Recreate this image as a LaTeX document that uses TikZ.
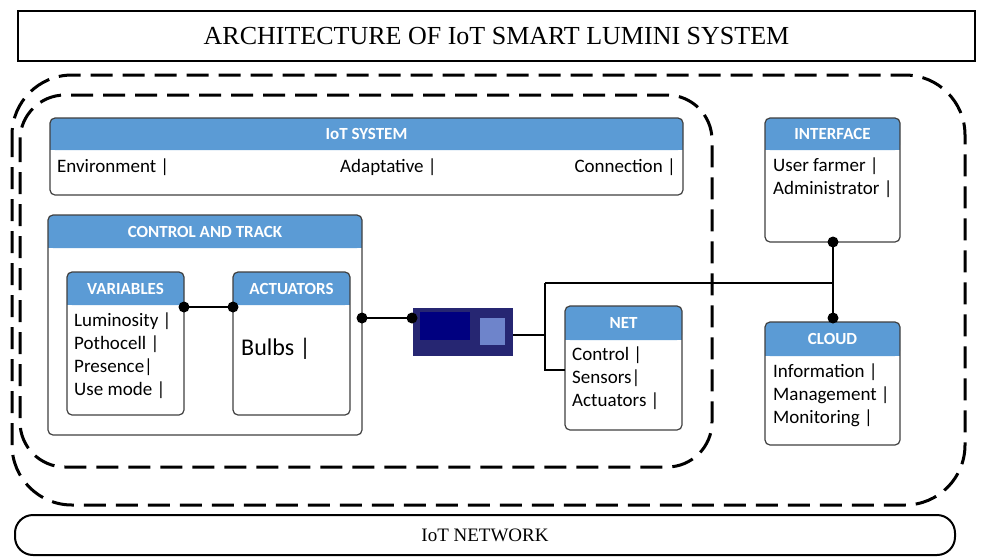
\documentclass[tikz,border=0pt]{standalone}
\usepackage{fontspec}
\setmainfont{Carlito}
\newfontfamily\serifx{Liberation Serif}
\begin{document}
\begin{tikzpicture}[x=1pt,y=-1pt,
  box/.style={draw=black!75,line width=1.2pt,rounded corners=5pt},
  head/.style={fill=hdr,rounded corners=5pt},
  htext/.style={text=white,font=\bfseries\fontsize{17}{19}\selectfont},
  btext/.style={font=\fontsize{19}{23}\selectfont,align=left,anchor=north west,inner sep=0pt},
  region/.style={line width=3pt,dash pattern=on 22pt off 10pt,rounded corners=60pt},
  dot/.style={circle,fill=black,inner sep=0pt,minimum size=11pt},
  wire/.style={line width=2.5pt}]
\definecolor{hdr}{HTML}{5B9BD5}
\useasboundingbox (0,0) rectangle (993,558);
\fill[white] (0,0) rectangle (993,558);
% title
\node[draw,line width=2pt,minimum width=957pt,minimum height=50pt,font=\serifx\fontsize{26}{28}\selectfont] (title) at (496.5,36) {ARCHITECTURE OF IoT SMART LUMINI SYSTEM};
% dashed regions
\draw[region] (12,75) rectangle (965,505);
\draw[region,rounded corners=45pt] (20,95) rectangle (712,467);
% IoT system
\fill[head] (50,118) rectangle (683,150);
\fill[hdr] (50,140) rectangle (683,150);
\draw[box] (50,118) rectangle (683,195);
\node[htext] (iots) at (366.5,134) {IoT SYSTEM};
\node[btext] (env) at (57,159) {Environment |};
\node[btext] (adp) at (340,159) {Adaptative |};
\node[btext,anchor=north east] (con) at (676,159) {Connection |};
% control and track
\fill[head] (48,215) rectangle (362,248);
\fill[hdr] (48,238) rectangle (362,248);
\draw[box] (48,215) rectangle (362,435);
\node[htext] (ct) at (205,232) {CONTROL AND TRACK};
% variables
\fill[head] (67,272) rectangle (184,305);
\fill[hdr] (67,295) rectangle (184,305);
\draw[box] (67,272) rectangle (184,415);
\node[htext] (var) at (125.5,289) {VARIABLES};
\node[btext] (vart) at (74,313) {Luminosity |\\Pothocell |\\Presence|\\Use mode |};
% actuators
\fill[head] (233,272) rectangle (350,305);
\fill[hdr] (233,295) rectangle (350,305);
\draw[box] (233,272) rectangle (350,415);
\node[htext] (act) at (291.5,289) {ACTUATORS};
\node[btext,font=\fontsize{24}{26}\selectfont] (bulbs) at (241,338) {Bulbs |};
% board
\node[fill=blue!35!black!85,minimum width=100pt,minimum height=48pt,inner sep=0pt] (board) at (463,332) {};
\fill[blue!50!black] (420,312) rectangle (470,340);
\fill[cyan!30!blue!60] (480,318) rectangle (505,345);
% net
\fill[head] (565,306) rectangle (682,340);
\fill[hdr] (565,330) rectangle (682,340);
\draw[box] (565,306) rectangle (682,430);
\node[htext] (net) at (623.5,323) {NET};
\node[btext] (nett) at (572,347) {Control |\\Sensors|\\Actuators |};
% interface
\fill[head] (765,118) rectangle (900,150);
\fill[hdr] (765,140) rectangle (900,150);
\draw[box] (765,118) rectangle (900,242);
\node[htext] (intf) at (832.5,134) {INTERFACE};
\node[btext] (intt) at (773,158) {User farmer |\\Administrator |};
% cloud
\fill[head] (765,322) rectangle (900,356);
\fill[hdr] (765,346) rectangle (900,356);
\draw[box] (765,322) rectangle (900,445);
\node[htext] (cloud) at (832.5,339) {CLOUD};
\node[btext] (cldt) at (773,364) {Information |\\Management |\\Monitoring |};
% network
\draw[line width=2pt,rounded corners=18pt] (15,515) rectangle (955,555);
\node[font=\serifx\fontsize{19}{22}\selectfont] (nw) at (485,535) {IoT NETWORK};
% connectors
\coordinate (j1) at (545,335);
\coordinate (j2) at (545,283);
\coordinate (j3) at (545,370);
\coordinate (j4) at (833,283);
\coordinate (d1) at (184,307); \coordinate (d2) at (233,307);
\coordinate (d3) at (362,318); \coordinate (d4) at (412,318);
\coordinate (d5) at (833,242); \coordinate (d6) at (833,318);
\draw[wire] (d1) -- (d2);
\draw[wire] (d3) -- (d4);
\draw[wire] (board.east |- j1) -- (j1);
\draw[wire] (j2) -- (j3) -- (565,370);
\draw[wire] (j2) -- (j4);
\draw[wire] (d5) -- (d6);
\foreach \d in {d1,d2,d3,d4,d5,d6} \node[dot] at (\d) {};
\end{tikzpicture}
\end{document}
